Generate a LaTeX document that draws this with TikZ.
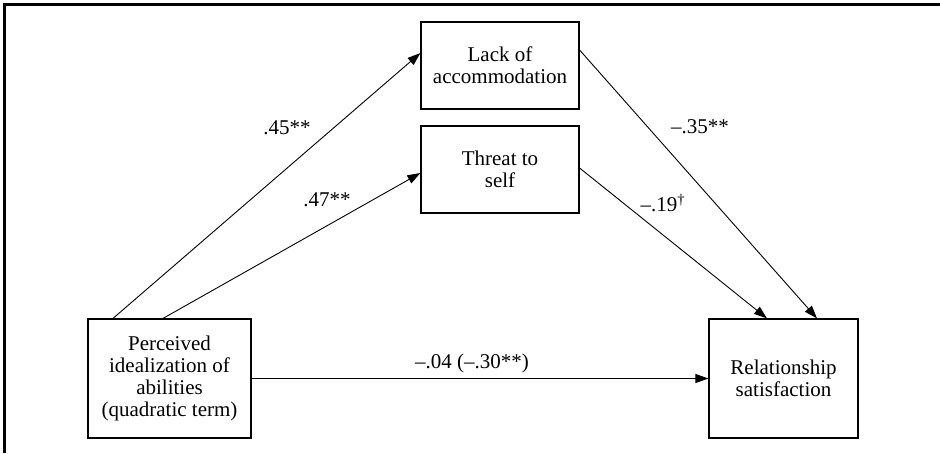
\documentclass[tikz,border=0pt]{standalone}
\usepackage{fontspec}
\setmainfont{Liberation Serif}
\usetikzlibrary{arrows.meta}
\begin{document}
\begin{tikzpicture}[x=1pt,y=-1pt,font=\fontsize{21}{22}\selectfont]
	          \useasboundingbox (0,0) rectangle (940,453);
	          \draw[line width=2.5pt] (4.5,453) -- (4.5,4.5) -- (940,4.5);
	          \begin{scope}[every node/.style={rectangle,draw,line width=1.2pt,align=center,inner sep=0pt}]
	            \node[minimum width=158pt,minimum height=87pt] (lack) at (500,65.5) {Lack of\\accommodation};
	            \node[minimum width=158pt,minimum height=87pt] (threat) at (500,169.5) {Threat to\\self};
	            \node[minimum width=163pt,minimum height=119pt] (perc) at (169.5,378.5) {Perceived\\idealization of\\abilities\\(quadratic term)};
	            \node[minimum width=149pt,minimum height=119pt] (rel) at (783.5,378.5) {Relationship\\satisfaction};
	          \end{scope}
	          \begin{scope}[every edge/.style={draw=black,line width=0.9pt,-{Triangle[length=13pt,width=9pt]}}]
	            \path ([xshift=-56.5pt]perc.north) edge ([yshift=12.5pt]lack.west);
	            \path ([xshift=-6.5pt]perc.north) edge ([yshift=-3.5pt]threat.west);
	            \path ([yshift=15.5pt]lack.east) edge ([xshift=33.5pt]rel.north);
	            \path ([yshift=1.5pt]threat.east) edge ([xshift=-16.5pt]rel.north);
	            \path (perc.east) edge (rel.west);
	          \end{scope}
	          \node (l1) at (287,128) {.45**};
	          \node (l2) at (327,200) {.47**};
	          \node (l3) at (700,127) {–.35**};
	          \node (l4) at (663,203) {–.19\textsuperscript{\dag}};
	          \node (l5) at (472,363) {–.04 (–.30**)};
	        \end{tikzpicture}
\end{document}
